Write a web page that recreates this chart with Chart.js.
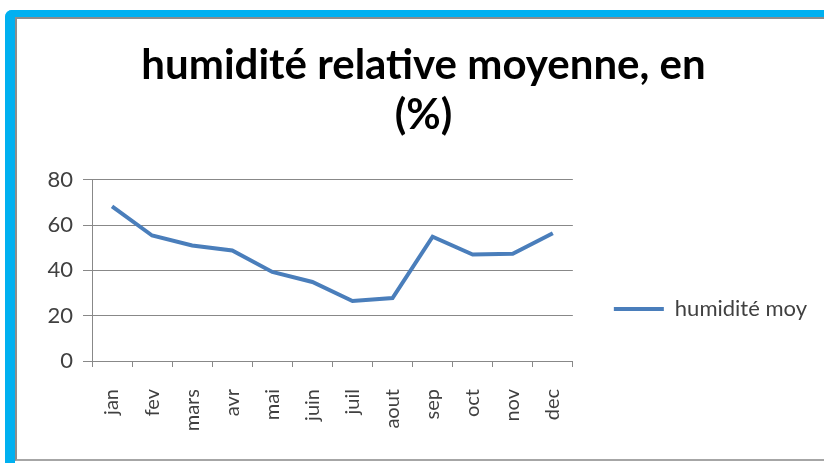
<!DOCTYPE html>
<html>
<head>
<meta charset="utf-8">
<script src="https://cdn.jsdelivr.net/npm/chart.js@4/dist/chart.umd.min.js"></script>
<style>
  body { margin: 0; background: #fff; }
  #frame {
    position: absolute; left: 5px; top: 10px; width: 840px; height: 470px;
    border-left: 10px solid #00b0f0; border-top: 7px solid #00b0f0;
    border-top-left-radius: 7px;
  }
  #inner {
    position: absolute; left: 0; top: 0; width: 840px; height: 440px;
    border-left: 2px solid #8c8c8c; border-top: 2px solid #8c8c8c;
    border-bottom: 2px solid #a6a6a6;
  }
  #humChart { position: absolute; left: 0; top: 0; }
</style>
</head>
<body>
<div id="frame"><div id="inner"></div></div>
<canvas id="humChart" width="824" height="463"></canvas>
<script>
// months and mean relative humidity (%)
let months = ["jan", "fev", "mars", "avr", "mai", "juin", "juil", "aout", "sep", "oct", "nov", "dec"]
let humidite = [68.3, 55.4, 51, 48.8, 39.3, 34.9, 26.5, 27.8, 54.9, 47, 47.3, 56.4]
let titleLines = ["humidité relative moyenne, en", "(%)"]
let seriesName = "humidité moy"

let gridColor = "#888888"
let textColor = "#404040"

let canvas = document.querySelector("#humChart")

new Chart(canvas, {
  type: "line",
  data: {
    labels: months,
    datasets: [
      {
        label: seriesName,
        data: humidite,
        borderColor: "#4a7ebb",
        backgroundColor: "#4a7ebb",
        borderWidth: 4,
        pointRadius: 0,
        tension: 0
      }
    ]
  },
  options: {
    responsive: false,
    animation: false,
    layout: { padding: { left: 30, top: 20, right: 7, bottom: 0 } },
    plugins: {
      title: {
        display: true,
        text: titleLines,
        color: "#000",
        font: { family: "Lato", size: 42, weight: "bold", lineHeight: 1.2 },
        padding: { top: 20, bottom: 39 }
      },
      legend: {
        position: "right",
        align: "end",
        fullSize: false,
        maxWidth: 260,
        labels: {
          usePointStyle: true,
          pointStyle: "line",
          pointStyleWidth: 50,
          padding: 41,
          color: textColor,
          font: { family: "Lato", size: 22 }
        }
      },
      tooltip: { enabled: false }
    },
    scales: {
      x: {
        offset: true,
        grid: { offset: true, drawOnChartArea: false, drawTicks: true, tickLength: 6, color: gridColor },
        border: { color: gridColor },
        ticks: {
          minRotation: 90, maxRotation: 90, padding: 22,
          color: textColor, font: { family: "Lato", size: 20 }
        },
        afterFit: function(scale) { scale.height = 102 }
      },
      y: {
        min: 0, max: 80,
        grid: { color: gridColor, tickLength: 9 },
        border: { color: gridColor },
        ticks: {
          stepSize: 20, padding: 10,
          color: textColor, font: { family: "Lato", size: 22 }
        },
        afterFit: function(scale) { scale.width = 62 }
      }
    }
  }
})
</script>
</body>
</html>
